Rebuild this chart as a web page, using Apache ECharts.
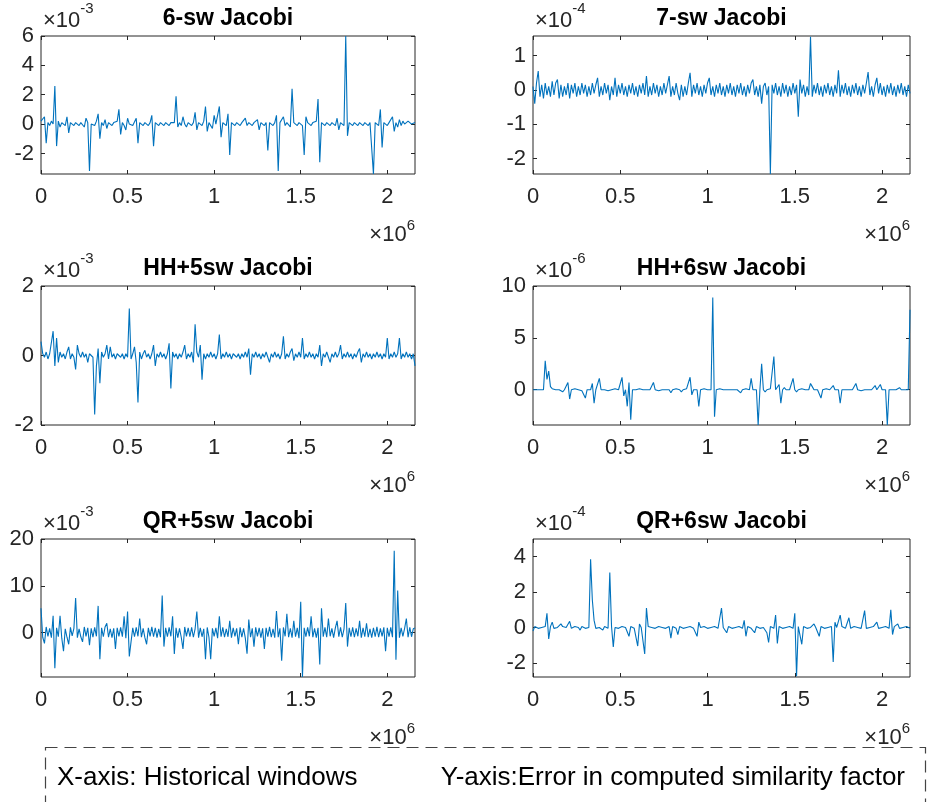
<!DOCTYPE html>
<html><head><meta charset="utf-8">
<script src="https://cdn.jsdelivr.net/npm/echarts@6/dist/echarts.min.js"></script>
<style>html,body{margin:0;padding:0;background:#fff}#c{width:928px;height:802px}</style>
</head><body><div id="c"></div>
<script>
// ---------- data (x in units of 10^6 windows, y in units of the panel's exponent) ----------
const STEP = 0.01;
const titles = ['6-sw Jacobi', '7-sw Jacobi', 'HH+5sw Jacobi', 'HH+6sw Jacobi', 'QR+5sw Jacobi', 'QR+6sw Jacobi'];
const yExponents = ['-3', '-4', '-3', '-6', '-3', '-4'];
const xExponent = '6';
const xTickVals = [0, 0.5, 1, 1.5, 2];
const yTickVals = [[-2, 0, 2, 4, 6], [-2, -1, 0, 1], [-2, 0, 2], [0, 5, 10], [0, 10, 20], [-2, 0, 2, 4]];
const yLimits = [[-3.4, 6], [-2.45, 1.57], [-2, 2], [-3.4, 10], [-9.5, 20], [-2.8, 5]];
const legendX = 'X-axis: Historical windows';
const legendY = 'Y-axis:Error in computed similarity factor';

const err6sw = [
 0.2, 0.1, 0.5, -1.3, 0.1, -0.1, 0.2, 0, 2.6, -1.5,
 0.2, -0.2, 0.1, 0, -0.1, 0.5, -0.6, 0.1, 0, -0.1,
 0.1, 0, -0.1, 0.1, 0, -0.2, 0.4, 0.1, -3.2, 0,
 0.1, -0.1, 0.2, 0.7, -1.0, 0.1, -0.1, 0.3, -0.3, 0.1,
 0, -0.1, 0.1, 0, 0.2, 1.0, -0.7, 0.1, -0.1, -0.4,
 0.4, 0, 0.1, -0.1, 0, 0.4, -1.3, 0.1, 0, -0.1,
 0.1, 0, -0.1, 0.1, 0.6, -1.5, 0.1, 0, -0.1, 0.1,
 0, -0.1, 0.1, 0, -0.1, 0.1, 0, 0.1, 1.9, -0.2,
 0.1, -0.1, 0.5, 0, -0.2, 0.1, 0, -0.1, 0.1, 0.8,
 -0.4, 0.1, 0, -0.1, 0.2, 1.2, -0.5, 0.1, 0, -0.3,
 0.6, 0, -0.1, 1.2, -0.9, 0.1, 0, -0.1, 0.7, -2.1,
 0.1, 0, -0.1, 0.1, 0, -0.1, 0.1, 0, 0.4, -0.1,
 0.1, 0, -0.1, 0.1, 0, 0.3, -0.4, 0.1, 0, -0.1,
 0.1, -1.8, 0.1, 0, -0.1, 0.1, 0.6, -3.2, 0.1, 0,
 0.5, -0.1, 0.1, 0, -0.2, 2.4, 0.1, 0, -0.1, 0.1,
 0, -0.1, -2.1, 0.5, 0.1, 0, -0.1, 0.1, 0, 0.2,
 1.7, -2.6, 0.1, 0, -0.1, 0.1, 0, -0.1, 0.1, 0,
 -0.1, 0.4, -0.4, 0.1, 0, -0.1, 6.0, -0.8, 0.1, 0,
 -0.1, 0.1, 0, -0.1, 0.1, 0, -0.1, 0.1, 0, -0.1,
 0.1, 0, -3.4, 0.1, 0, -0.1, 1.0, -1.6, 0.1, 0,
 -0.1, 0.1, 0, 0.5, -0.5, 0.1, -0.2, 0.3, -0.1, 0.2,
 0, -0.1, 0.2, 0.3, 0, -0.1, 0.1
];
const err7sw = [
 0.1, -0.4, 0.2, 0.55, -0.2, 0.15, -0.25, 0.2, -0.15, 0.1,
 -0.2, 0.25, -0.15, 0.2, 0.3, -0.25, 0.15, -0.2, 0.1, -0.15,
 0.2, -0.25, 0.15, -0.1, 0.2, -0.2, 0.1, -0.15, 0.2, -0.1,
 0.15, -0.2, 0.1, -0.15, 0.2, -0.1, 0.15, 0.35, -0.2, 0.1,
 -0.15, 0.2, -0.1, 0.15, -0.3, 0.1, -0.15, 0.35, -0.2, 0.15,
 -0.1, 0.2, -0.15, 0.1, -0.2, 0.15, -0.1, 0.2, -0.15, 0.1,
 -0.2, 0.15, -0.1, 0.2, -0.15, 0.4, -0.2, 0.1, -0.15, 0.2,
 -0.1, 0.15, -0.2, 0.1, -0.15, 0.2, -0.1, 0.15, 0.4, -0.2,
 0.1, -0.15, 0.2, -0.1, -0.3, 0.15, -0.2, 0.1, -0.15, 0.2,
 0.5, -0.2, 0.15, -0.1, 0.2, -0.15, 0.1, -0.2, 0.15, -0.1,
 0.2, 0.35, -0.15, 0.1, -0.2, 0.15, -0.1, 0.2, -0.15, 0.1,
 -0.2, 0.15, -0.1, 0.2, -0.15, 0.1, -0.2, 0.15, -0.1, 0.2,
 -0.15, 0.1, -0.2, 0.15, -0.1, 0.2, 0.3, -0.15, 0.1, -0.2,
 0.15, -0.4, 0.1, 0.2, -0.15, 0.1, -2.45, 0.15, -0.1, 0.2,
 -0.15, 0.1, -0.2, 0.2, -0.1, 0.15, -0.2, 0.1, -0.15, 0.2,
 -0.1, 0.15, -0.78, 0.3, -0.1, 0.15, -0.2, 0.1, -0.15, 1.55,
 -0.2, 0.15, -0.1, 0.2, -0.15, 0.1, -0.2, 0.15, -0.1, 0.2,
 -0.15, 0.1, -0.2, 0.15, -0.1, 0.57, -0.2, 0.15, -0.1, 0.2,
 -0.15, 0.1, -0.2, 0.15, -0.1, 0.2, -0.15, 0.1, -0.2, 0.15,
 -0.1, 0.2, 0.52, -0.15, 0.1, -0.2, 0.15, 0.35, -0.1, 0.2,
 -0.15, 0.1, -0.2, 0.15, -0.1, 0.2, -0.15, 0.1, -0.2, 0.15,
 -0.1, 0.2, -0.15, 0.1, -0.2, 0.15, -0.1
];
const errHH5sw = [
 0.4, 0.05, -0.05, 0.1, -0.1, 0.05, 0, 0.7, -0.3, 0.5,
 -0.2, 0.1, -0.05, 0.05, -0.1, 0.1, 0.25, -0.1, 0.05, -0.05,
 -0.4, 0.3, 0.05, -0.05, 0.1, -0.05, 0.05, -0.2, 0.05, 0.1,
 -0.05, -1.7, -0.3, 0.2, -0.8, 0.1, -0.05, 0.05, 0.3, -0.1,
 0.25, -0.05, 0.05, -0.1, 0.05, 0, -0.05, 0.05, -0.1, 0.05,
 -0.05, 1.35, -0.1, 0.05, 0.25, -0.2, -1.35, 0.1, -0.1, 0.05,
 0.15, -0.05, 0.05, -0.1, 0.05, 0.3, -0.3, 0.05, -0.05, 0.1,
 -0.05, 0.05, -0.1, 0.05, 0.35, -0.95, 0.1, -0.05, 0.05, -0.1,
 0.05, -0.05, 0.1, 0.3, -0.1, 0.05, -0.05, 0.1, -0.2, 0.9,
 0.1, -0.05, 0.3, -0.7, 0.05, -0.1, 0.05, -0.05, 0.1, -0.05,
 0.05, -0.1, 0.05, 0.6, -0.1, 0.05, -0.05, 0.1, -0.05, 0.05,
 -0.1, 0.05, 0, -0.05, 0.05, -0.1, 0.05, -0.05, 0.1, -0.05,
 0.2, -0.55, 0.05, -0.05, 0.1, -0.05, 0.05, -0.1, 0.05, -0.05,
 0.1, -0.05, -0.2, 0.05, -0.05, 0.1, -0.05, 0.05, -0.1, 0.05,
 0.55, -0.1, 0.05, -0.05, 0.1, 0.2, -0.15, 0.05, -0.05, 0.1,
 -0.05, 0.5, -0.1, 0.05, -0.05, 0.1, -0.05, 0.05, -0.1, 0.05,
 -0.05, 0.3, -0.3, 0.05, -0.05, 0.1, -0.05, -0.2, 0.05, -0.05,
 0.1, -0.05, 0.05, 0.3, -0.1, 0.05, -0.05, 0.1, -0.05, 0.05,
 -0.1, 0.05, -0.05, 0.1, 0.2, -0.2, 0.05, -0.05, 0.1, -0.05,
 0.05, -0.1, 0.05, -0.05, 0.1, -0.05, 0.05, -0.1, 0.05, -0.05,
 0.5, -0.1, 0.05, -0.05, 0.1, -0.05, 0.05, 0.5, -0.1, 0.05,
 -0.05, 0.1, -0.05, 0.05, -0.1, 0.05, -0.3
];
const errHH6sw = [
 0, 0, 0, 0, 0, 0, 0, 2.8, 1.0, 1.8,
 0.3, 0.1, 0, 0, 0, 0, 0, -0.2, 0, 0,
 0.7, -0.9, 0, 0, 0.1, 0, 0, 0, -0.1, 0,
 -0.8, 0, 0.1, 0, 0.6, -1.3, 0, 0, 1.1, 0,
 0, 0, 0, -0.1, 0, 0, 0, 0.1, 0, 0,
 0, 1.2, -0.6, 0, -1.6, 0.7, -2.9, 0, 0, 0,
 0, 0.1, 0, 0, -0.1, 0, 0, 0, 0.1, 0.7,
 0, 0, -0.1, 0, 0, 0.1, 0, 0, 0, -0.3,
 0, 0, 0.1, 0, 0, -0.2, 0, 0, 0.1, 0,
 1.2, -0.5, 0, 0, 0, -1.6, 0, 0, 0.1, 0,
 0, 0, 0, 8.9, -2.6, 0, 0, 0.1, 0, 0,
 -0.1, 0, 0.1, 0, 0, 0, 0.1, 0, 0, -0.3,
 0, 0, 0.1, 0, 0, 1.1, 0, 0, 0, -3.4,
 0, 2.5, 0, -0.2, 0, 0, 0.1, 0, 3.2, 0,
 0, 0.5, -1.3, 0, 0.2, 0, 0, 0, 0, 1.1,
 0, -0.2, 0, 0, 0.1, 0, 0, 0, 0, 0.6,
 0.3, 0, -0.1, 0, 0, -0.8, 0, 0, 0.1, 0,
 0, 0, 0.4, 0, 0, 0, -1.3, 0, 0, 0,
 0.1, 0, 0, 0, 0, 0.6, 0, 0, -0.1, 0,
 0, 0.1, 0, 0, 0, 0, 0.4, 0, 0, 0.5,
 0, 0, 0, -3.4, 0, 0, 0, 0.1, 0, 0,
 0.2, 0, 0, 0, 0, 0, 7.7
];
const errQR5sw = [
 5.2, -1.0, -2.3, 1.2, -0.8, 0.9, -1.1, 3.6, -7.6, 1.0,
 -0.9, 3.6, -1.2, -4.0, 0.8, -1.0, -2.5, 1.1, -0.7, 0.9,
 7.4, -1.1, 0.8, -0.9, -2.0, 1.2, -0.8, 1.0, -2.7, 0.9,
 -1.0, 1.1, -0.8, 5.7, -5.7, 1.0, -0.9, 1.2, 2.0, -1.0,
 0.8, -1.1, 0.9, -3.5, 1.0, -0.8, 1.1, -0.9, 3.5, -1.2,
 4.5, -5.1, -2.0, 1.0, -0.9, 1.1, -0.8, 3.0, -1.0, 0.9,
 -1.1, -2.5, 1.0, -0.8, 1.2, -0.9, 1.0, -1.1, 0.8, -1.0,
 7.9, -3.0, 1.0, -0.9, 1.1, -0.8, 3.5, -4.6, 1.0, -1.1,
 0.9, -1.0, -3.5, 1.2, -0.8, 1.0, -0.9, 1.1, -1.0, 0.8,
 4.5, -1.1, 1.0, -0.9, 0.8, -5.7, 1.1, -1.0, -5.7, 0.9,
 -0.8, 1.0, -1.2, 3.5, -0.9, 1.1, -1.0, 0.8, -0.9, 2.5,
 -1.1, 1.0, -0.8, 0.9, -2.5, 1.1, -1.0, 0.9, -1.2, -4.5,
 2.8, -1.0, 0.9, -3.0, 1.1, -0.8, 1.0, -1.1, 0.9, -3.5,
 1.0, -0.9, 1.2, -1.0, 0.8, -1.1, 4.6, -1.0, 0.9, -6.0,
 1.1, -0.8, 4.0, -1.0, 0.9, -1.1, 2.5, -0.9, 1.0, -1.2,
 6.6, -9.5, 1.0, -0.9, 1.1, -0.8, 3.5, -1.0, 0.9, -1.1,
 1.0, -6.8, 5.2, -0.9, 1.1, -1.0, 3.0, -0.8, 0.9, -1.1,
 1.0, 2.5, -0.9, 1.1, -1.0, 0.8, 6.3, -3.0, 1.0, -0.9,
 1.1, -1.0, 0.9, -0.8, 2.5, -1.1, 1.0, -0.9, 2.0, -1.0,
 0.8, -1.1, 1.0, -0.9, 1.2, -1.0, 0.9, -0.8, 1.1, -4.0,
 1.0, -0.9, 1.1, -1.0, 17.5, -5.8, 9.0, -1.1, 1.0, -0.8,
 0.9, 3.0, -1.0, 1.1, -0.9, 0.8, 1.0
];
const errQR6sw = [
 -0.2, 0.05, 0, -0.05, 0.05, 0, -0.05, 0.05, 0.8, -0.65,
 0.05, 0.3, -0.05, 0.05, 0, -0.05, 0.2, 0.05, -0.05, 0,
 0.05, 0.35, -0.05, 0, 0.05, -0.05, 0, -0.15, 0.05, 0,
 -0.05, 0.05, 0, 3.85, 1.55, 0.4, -0.05, 0.05, 0, -0.05,
 -0.15, 0.05, 0, -0.05, 3.1, 0.05, -1.1, 0, 0.05, -0.05,
 0, 0.05, -0.05, 0, 0.05, -0.5, 0.05, 0, -0.05, 0.05,
 -1.05, 0.2, 0, -0.05, -1.5, 1.1, 0.05, -0.05, 0, 0.05,
 -0.05, 0, 0.05, -0.05, 0, 0.05, -0.05, 0, 0.05, -0.6,
 0.05, 0, -0.05, -0.4, 0.05, 0, -0.05, 0.05, 0, -0.05,
 0.05, 0, -0.05, 0.05, -0.5, 0.3, 0, -0.05, 0.05, 0,
 -0.05, 0.05, 0, -0.05, 0.05, 0, -0.05, 0.05, 1.1, 0,
 -0.05, -0.3, 0.05, 0, -0.05, 0.05, 0, -0.05, 0.05, 0,
 -0.05, 0.4, -0.5, 0.05, 0, -0.05, 0.05, -0.3, 0.05, 0,
 -0.05, 0.05, 0, -0.05, -0.3, -0.85, 0.05, 0, -0.05, 0.7,
 -0.9, 0.05, 0, -0.05, 0.05, 0, -0.05, 0.05, 0, -0.05,
 0.8, -2.75, 0.05, -0.05, -0.95, 0.05, 0, -0.05, 0.05, 0,
 -0.05, 0.2, 0, -0.05, -0.5, 0.05, 0, -0.05, 0.05, 0,
 -0.05, 0.05, -1.95, 0.3, 0, -0.05, 0.7, 0.05, 0, -0.05,
 0.05, 0.55, -0.05, 0, 0.05, -0.05, 0, 0.05, -0.05, 0,
 0.95, -0.05, 0.05, 0, -0.05, 0.05, 0, 0.3, -0.05, 0.05,
 0, -0.05, 0.05, 0, -0.05, 1.0, -0.4, 0.05, 0, 0.2,
 -0.05, 0.05, 0, -0.05, 0.05, 0, -0.05
];
const seriesData = [err6sw, err7sw, errHH5sw, errHH6sw, errQR5sw, errQR6sw];

// ---------- layout / style ----------
const FONT = '"Liberation Sans", Arial, Helvetica, sans-serif';
const INK = '#262626';
const LINE = '#0072BD';
const TICK_FS = 22, TITLE_FS = 23, EXP_FS = 22, SUP_FS = 15, LEG_FS = 26;
const layout = [
  {left: 41, top: 36, w: 374, h: 138}, {left: 533, top: 36, w: 377, h: 138},
  {left: 41, top: 286, w: 374, h: 139}, {left: 533, top: 286, w: 377, h: 139},
  {left: 41, top: 539, w: 374, h: 138}, {left: 533, top: 539, w: 377, h: 138}
];

const ctx = document.createElement('canvas').getContext('2d');
function textW(s, fs, weight) { ctx.font = (weight || 'normal') + ' ' + fs + 'px ' + FONT; return ctx.measureText(s).width; }

const grid = [], xAxis = [], yAxis = [], series = [], graphic = [];
seriesData.forEach((vals, i) => {
  const L = layout[i];
  const xMax = +((vals.length - 1) * STEP).toFixed(2);
  grid.push({left: L.left, top: L.top, width: L.w, height: L.h, show: true,
    borderColor: INK, borderWidth: 1, backgroundColor: '#fff'});
  const tick = {show: true, inside: true, length: 4, lineStyle: {color: INK, width: 1}};
  const lab = {color: INK, fontSize: TICK_FS, fontFamily: FONT};
  const xb = {type: 'value', gridIndex: i, min: 0, max: xMax, axisLine: {show: false, onZero: false}, splitLine: {show: false}};
  xAxis.push(Object.assign({}, xb, {position: 'bottom',
    axisTick: Object.assign({}, tick, {customValues: xTickVals}),
    axisLabel: Object.assign({}, lab, {customValues: xTickVals, margin: 12})}));
  xAxis.push(Object.assign({}, xb, {position: 'top',
    axisTick: Object.assign({}, tick, {customValues: xTickVals}), axisLabel: {show: false}}));
  const yb = {type: 'value', gridIndex: i, min: yLimits[i][0], max: yLimits[i][1], axisLine: {show: false, onZero: false}, splitLine: {show: false}};
  yAxis.push(Object.assign({}, yb, {position: 'left',
    axisTick: Object.assign({}, tick, {customValues: yTickVals[i]}),
    axisLabel: Object.assign({}, lab, {customValues: yTickVals[i], margin: 7})}));
  yAxis.push(Object.assign({}, yb, {position: 'right',
    axisTick: Object.assign({}, tick, {customValues: yTickVals[i]}), axisLabel: {show: false}}));
  series.push({type: 'line', xAxisIndex: 2 * i, yAxisIndex: 2 * i, showSymbol: false, symbol: 'none',
    data: vals.map((v, k) => [+(k * STEP).toFixed(2), v]),
    lineStyle: {color: LINE, width: 1.1}, itemStyle: {color: LINE}, clip: true, animation: false, sampling: null});

  // title
  graphic.push({type: 'text', style: {text: titles[i], x: L.left + L.w / 2, y: L.top - 17,
    textAlign: 'center', textVerticalAlign: 'middle', font: 'bold ' + TITLE_FS + 'px ' + FONT, fill: '#000'}});
  // y exponent  ×10^n
  const bx = L.left + 2;
  graphic.push({type: 'text', style: {text: '×10', x: bx, y: L.top - 15,
    textAlign: 'left', textVerticalAlign: 'middle', font: EXP_FS + 'px ' + FONT, fill: INK}});
  graphic.push({type: 'text', style: {text: yExponents[i], x: bx + textW('×10', EXP_FS), y: L.top - 27,
    textAlign: 'left', textVerticalAlign: 'middle', font: SUP_FS + 'px ' + FONT, fill: INK}});
  // x exponent ×10^6
  const right = L.left + L.w;
  const supW = textW(xExponent, SUP_FS);
  graphic.push({type: 'text', style: {text: xExponent, x: right, y: L.top + L.h + 52,
    textAlign: 'right', textVerticalAlign: 'middle', font: SUP_FS + 'px ' + FONT, fill: INK}});
  graphic.push({type: 'text', style: {text: '×10', x: right - supW, y: L.top + L.h + 61,
    textAlign: 'right', textVerticalAlign: 'middle', font: EXP_FS + 'px ' + FONT, fill: INK}});
});

// dashed annotation box
graphic.push({type: 'rect', shape: {x: 45.5, y: 747.5, width: 880, height: 100},
  style: {fill: 'none', stroke: '#444', lineWidth: 1.2, lineDash: [12, 7]}, z: 10});
graphic.push({type: 'text', style: {text: legendX, x: 57, y: 778, textAlign: 'left', textVerticalAlign: 'middle',
  font: LEG_FS + 'px ' + FONT, fill: '#000'}, z: 11});
graphic.push({type: 'text', style: {text: legendY, x: 905, y: 778, textAlign: 'right', textVerticalAlign: 'middle',
  font: LEG_FS + 'px ' + FONT, fill: '#000'}, z: 11});

const chart = echarts.init(document.getElementById('c'), null, {renderer: 'canvas', width: 928, height: 802});
chart.setOption({backgroundColor: '#fff', animation: false, grid, xAxis, yAxis, series, graphic});
</script></body></html>
